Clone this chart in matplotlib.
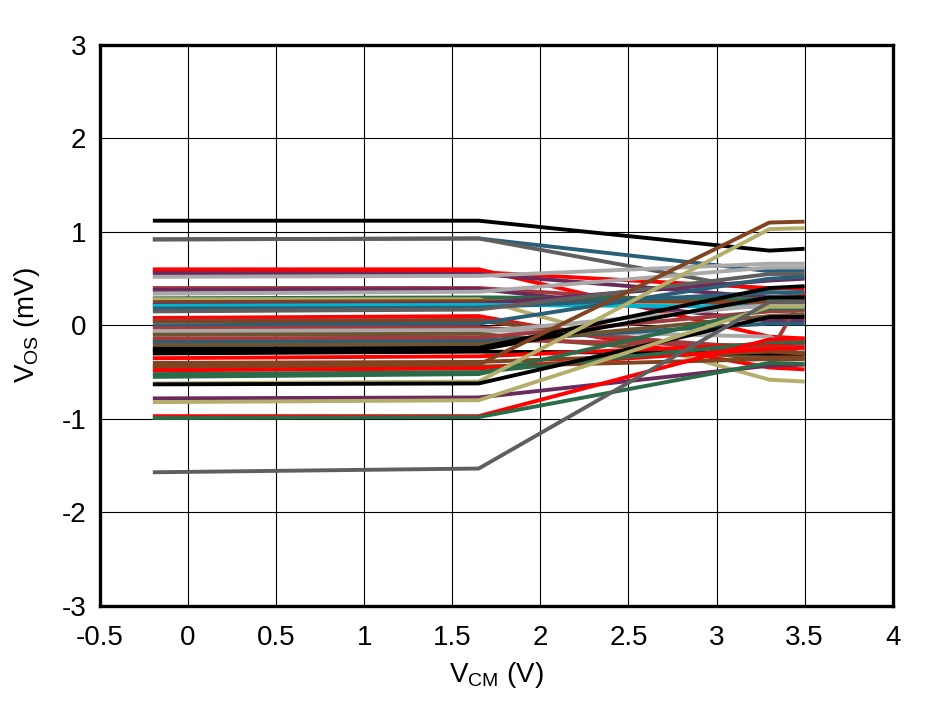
import matplotlib
matplotlib.use("Agg")
import matplotlib.pyplot as plt

plt.rcParams["font.family"] = ["Liberation Sans", "DejaVu Sans"]
plt.rcParams["mathtext.fontset"] = "custom"
plt.rcParams["mathtext.rm"] = "Liberation Sans"
plt.rcParams["axes.unicode_minus"] = False

# common-mode voltage nodes (V)
vcm = [-0.2, 1.65, 3.3, 3.5]

BLACK = "#000000"
DGRAY = "#5f5f5f"
LGRAY = "#a9a9a9"
RED = "#ff0000"
PURPLE = "#6b2a5c"
BRRED = "#a33a3e"
GREEN = "#2a6b4a"
BROWN = "#804420"
CYAN = "#00b4cc"
TEAL = "#2a5f78"
KHAKI = "#b3ae6a"
OLIVE = "#6e5430"

# offset voltage (mV) of each unit at the vcm nodes
vos_curves = [
    [1.12, 1.12, 0.80, 0.82],
    [0.92, 0.93, 0.58, 0.59],
    [0.92, 0.93, 0.36, 0.33],
    [0.60, 0.60, -0.12, -0.14],
    [0.57, 0.57, 0.40, 0.40],
    [0.56, 0.55, 0.30, 0.30],
    [0.52, 0.53, 0.66, 0.66],
    [0.40, 0.40, 0.20, 0.18],
    [0.38, 0.39, 0.05, 0.05],
    [0.34, 0.36, 0.62, 0.62],
    [0.29, 0.30, 0.28, 0.28],
    [0.28, 0.28, -0.58, -0.60],
    [0.25, 0.26, 0.25, 0.25],
    [0.22, 0.23, 0.48, 0.50],
    [0.21, 0.22, 0.20, 0.20],
    [0.18, 0.19, 0.35, 0.36],
    [0.15, 0.17, 0.55, 0.55],
    [0.08, 0.10, -0.45, -0.47],
    [0.05, 0.06, -0.30, 0.35],
    [0.04, 0.05, -0.33, -0.33],
    [0.00, 0.02, 0.50, 0.52],
    [-0.03, -0.02, -0.25, -0.26],
    [-0.06, -0.05, -0.12, -0.28],
    [-0.08, -0.07, 0.22, 0.22],
    [-0.10, -0.09, -0.36, -0.36],
    [-0.14, -0.13, 0.15, 0.16],
    [-0.16, -0.15, -0.22, -0.22],
    [-0.18, -0.17, 0.02, 0.02],
    [-0.21, -0.20, 0.10, 0.12],
    [-0.25, -0.24, 0.40, 0.42],
    [-0.27, -0.26, 0.30, 0.30],
    [-0.30, -0.28, -0.30, -0.30],
    [-0.35, -0.33, -0.20, -0.18],
    [-0.40, -0.39, -0.28, -0.30],
    [-0.43, -0.42, 1.10, 1.11],
    [-0.45, -0.44, -0.36, -0.36],
    [-0.48, -0.46, -0.25, -0.24],
    [-0.52, -0.50, -0.18, -0.18],
    [-0.55, -0.52, 0.18, 0.18],
    [-0.62, -0.60, 1.03, 1.04],
    [-0.63, -0.62, 0.09, 0.09],
    [-0.78, -0.77, -0.43, -0.42],
    [-0.82, -0.80, 0.20, 0.20],
    [-0.97, -0.97, -0.15, -0.14],
    [-0.99, -0.98, -0.40, -0.41],
    [-1.57, -1.53, 0.25, 0.25],
]
colors = [
    BLACK, TEAL, DGRAY, RED, RED, PURPLE, LGRAY, BRRED, PURPLE, LGRAY,
    GREEN, KHAKI, BROWN, PURPLE, CYAN, TEAL, DGRAY, RED, BRRED, BROWN,
    TEAL, BRRED, LGRAY, LGRAY, OLIVE, BRRED, BRRED, TEAL, OLIVE, BLACK,
    BLACK, BLACK, RED, BROWN, BROWN, BROWN, RED, GREEN, GREEN, KHAKI,
    BLACK, PURPLE, KHAKI, RED, GREEN, DGRAY,
]

xticks = [-0.5, 0, 0.5, 1, 1.5, 2, 2.5, 3, 3.5, 4]
xticklabels = ["-0.5", "0", "0.5", "1", "1.5", "2", "2.5", "3", "3.5", "4"]
yticks = [-3, -2, -1, 0, 1, 2, 3]

fig = plt.figure(figsize=(9.26, 7.01), dpi=100)
ax = fig.add_axes([0.108, 0.1355, 0.856, 0.8005])

for vals, c in zip(vos_curves, colors):
    ax.plot(vcm, vals, color=c, lw=2.8, solid_capstyle="butt")

ax.set_xlim(-0.5, 4)
ax.set_ylim(-3, 3)
ax.set_xticks(xticks)
ax.set_xticklabels(xticklabels)
ax.set_yticks(yticks)
ax.grid(True, color="black", lw=0.8)
ax.set_axisbelow(True)
ax.tick_params(length=0, labelsize=20)
ax.tick_params(axis="x", pad=14)
ax.tick_params(axis="y", pad=10)
for s in ax.spines.values():
    s.set_linewidth(2.4)

ax.set_xlabel(r"V$_\mathregular{CM}$ (V)", fontsize=20, labelpad=6)
ax.set_ylabel(r"V$_\mathregular{OS}$ (mV)", fontsize=20, labelpad=14)

fig.savefig("out.png", dpi=100)
plt.close(fig)
